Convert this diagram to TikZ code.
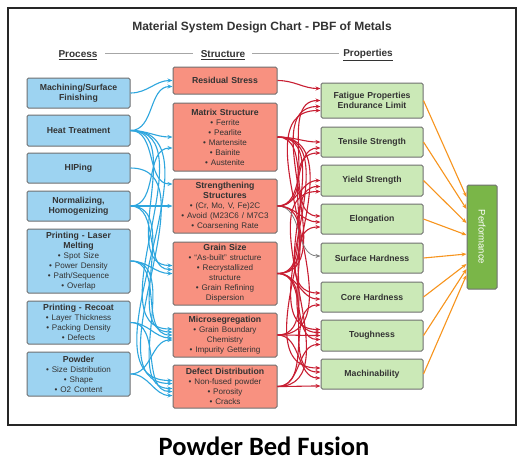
\documentclass[tikz,border=0pt]{standalone}
\usepackage{fontspec}
\setmainfont{Liberation Sans}
\newfontfamily\capfont{Carlito}
\usepackage{xcolor}
\usetikzlibrary{arrows.meta}
\definecolor{procblue}{RGB}{157, 211, 241}
\definecolor{structred}{RGB}{248, 145, 128}
\definecolor{propgreen}{RGB}{203, 233, 183}
\definecolor{perfgreen}{RGB}{122, 182, 72}
\definecolor{boxgray}{RGB}{112, 112, 112}
\definecolor{textgray}{RGB}{51, 51, 51}
\definecolor{linkblue}{RGB}{46, 166, 222}
\definecolor{linkred}{RGB}{200, 30, 50}
\definecolor{linkorange}{RGB}{247, 148, 29}
\newcommand{\bul}[1]{{\mdseries\fontsize{8.1}{9.8}\selectfont\textbullet\ #1}}
\newcommand{\cont}[1]{{\mdseries\fontsize{8.1}{9.8}\selectfont #1}}

\tikzset{
  box/.style={draw=boxgray, line width=1pt, rounded corners=1.5pt, align=center,
    inner sep=1pt, text=textgray, font=\bfseries\fontsize{8.7}{10}\selectfont},
  procbox/.style={box, fill=procblue, minimum width=103pt, text width=100pt},
  structbox/.style={box, fill=structred, minimum width=104pt, text width=101pt},
  propbox/.style={box, fill=propgreen, minimum width=102pt, text width=99pt},
  bluelink/.style={linkblue, line width=1.1pt, -{Stealth[length=5pt,width=4pt]}},
  redlink/.style={linkred, line width=1.1pt, -{Stealth[length=5pt,width=4pt]}},
  graylink/.style={gray, line width=0.8pt, -{Stealth[length=5pt,width=4pt]}},
  orangelink/.style={linkorange, line width=1.1pt, -{Stealth[length=5pt,width=4pt]}},
  heading/.style={font=\bfseries\fontsize{10}{12}\selectfont, text=textgray}
}

\begin{document}
\begin{tikzpicture}[x=1pt, y=-1pt]
  \useasboundingbox (0,0) rectangle (527,467);
  % Frame and titles
  \fill[white] (0,0) rectangle (527,467);
  \draw[line width=1.3pt, black!85] (8,8) rectangle (516,425);
  \node[font=\bfseries\fontsize{12}{14}\selectfont, text=textgray] (title) at (262,27) {Material System Design Chart - PBF of Metals};
  \node[font=\capfont\bfseries\fontsize{26.5}{30}\selectfont] (caption) at (264,446) {Powder Bed Fusion};
  % Column headings
  \node[heading] (hproc) at (78,55) {\underline{Process}};
  \node[heading] (hstruct) at (223,55) {\underline{Structure}};
  \node[heading] (hprop) at (368,55) {\underline{Properties}};
  \draw[gray!70, line width=0.8pt] (105,53) -- (193,53);
  \draw[gray!70, line width=0.8pt] (252,53) -- (339,53);

  % Process
  \node[procbox, minimum height=30pt] (mach) at (78.5,93) {Machining/Surface\\Finishing};
  \node[procbox, minimum height=31pt] (heat) at (78.5,130.5) {Heat Treatment};
  \node[procbox, minimum height=30pt] (hip) at (78.5,168) {HIPing};
  \node[procbox, minimum height=30pt] (norm) at (78.5,206) {Normalizing,\\Homogenizing};
  \node[procbox, minimum height=64pt] (laser) at (78.5,261) {Printing - Laser\\Melting\\\bul{Spot Size}\\\bul{Power Density}\\\bul{Path/Sequence}\\\bul{Overlap}};
  \node[procbox, minimum height=43pt] (recoat) at (78.5,322.5) {Printing - Recoat\\\bul{Layer Thickness}\\\bul{Packing Density}\\\bul{Defects}};
  \node[procbox, minimum height=44pt] (powder) at (78.5,374) {Powder\\\bul{Size Distribution}\\\bul{Shape}\\\bul{O2 Content}};

  % Structure
  \node[structbox, minimum height=27pt] (res) at (225,80.5) {Residual Stress};
  \node[structbox, minimum height=68pt] (matrix) at (225,137) {Matrix Structure\\\bul{Ferrite}\\\bul{Pearlite}\\\bul{Martensite}\\\bul{Bainite}\\\bul{Austenite}};
  \node[structbox, minimum height=54pt] (streng) at (225,206) {Strengthening\\Structures\\\bul{(Cr, Mo, V, Fe)2C}\\\bul{Avoid (M23C6 / M7C3}\\\bul{Coarsening Rate}};
  \node[structbox, minimum height=63pt] (grain) at (225,273.5) {Grain Size\\\bul{``As-built'' structure}\\\bul{Recrystallized}\\\cont{structure}\\\bul{Grain Refining}\\\cont{Dispersion}};
  \node[structbox, minimum height=44pt] (micro) at (225,335) {Microsegregation\\\bul{Grain Boundary}\\\cont{Chemistry}\\\bul{Impurity Gettering}};
  \node[structbox, minimum height=43pt] (defect) at (225,386.5) {Defect Distribution\\\bul{Non-fused powder}\\\bul{Porosity}\\\bul{Cracks}};

  % Properties
  \node[propbox, minimum height=35pt] (fat) at (372,100.5) {Fatigue Properties\\Endurance Limit};
  \node[propbox, minimum height=30pt] (ten) at (372,142) {Tensile Strength};
  \node[propbox, minimum height=31pt] (yld) at (372,180.5) {Yield Strength};
  \node[propbox, minimum height=30pt] (elong) at (372,219) {Elongation};
  \node[propbox, minimum height=30pt] (surf) at (372,258) {Surface Hardness};
  \node[propbox, minimum height=30pt] (core) at (372,297) {Core Hardness};
  \node[propbox, minimum height=31pt] (tough) at (372,335.5) {Toughness};
  \node[propbox, minimum height=30pt] (machin) at (372,374) {Machinability};

  % Performance
  \node[box, fill=perfgreen, minimum width=30pt, minimum height=104pt] (perf) at (482,237)
    {\rotatebox{-90}{\mdseries\fontsize{9.5}{11}\selectfont\color{white}Performance}};

  % Process -> Structure
  \draw[bluelink] (mach.east) to[out=0,in=180] (res.west);
  \draw[bluelink] (heat.east) to[out=0,in=180] ([yshift=-6pt]res.west);
  \draw[bluelink] (heat.east) to[out=0,in=180] (matrix.west);
  \draw[bluelink] (heat.east) to[out=0,in=180] ([yshift=22pt]streng.west);
  \draw[bluelink] (heat.east) to[out=0,in=180] ([yshift=8pt]grain.west);
  \draw[bluelink] (heat.east) to[out=0,in=180] ([yshift=6pt]micro.west);
  \draw[bluelink] (heat.east) to[out=0,in=180] ([yshift=6pt]defect.west);
  \draw[bluelink] (hip.east) to[out=0,in=180] ([yshift=3pt]defect.west);
  \draw[bluelink] (norm.east) to[out=0,in=180] ([yshift=-11pt]matrix.west);
  \draw[bluelink] (norm.east) to[out=0,in=180] (streng.west);
  \draw[bluelink] (norm.east) to[out=0,in=180] ([yshift=4pt]grain.west);
  \draw[bluelink] (norm.east) to[out=0,in=180] ([yshift=3pt]micro.west);
  \draw[bluelink] (laser.east) to[out=0,in=180] (grain.west);
  \draw[bluelink] (laser.east) to[out=0,in=180] (micro.west);
  \draw[bluelink] (laser.east) to[out=0,in=180] ([yshift=-2pt]defect.west);
  \draw[bluelink] (recoat.east) to[out=0,in=180] ([yshift=-3pt]micro.west);
  \draw[bluelink] (recoat.east) to[out=0,in=180] ([yshift=-5pt]defect.west);
  \draw[bluelink] (powder.east) to[out=0,in=180] ([yshift=-5pt]micro.west);
  \draw[bluelink] (powder.east) to[out=0,in=180] ([yshift=-9pt]defect.west);

  % Structure -> Properties
  \draw[redlink] (res.east) to[out=0,in=180] ([yshift=12pt]fat.west);
  \draw[redlink] (streng.east) to[out=0,in=180] (fat.west);
  \draw[redlink] (grain.east) to[out=0,in=180] ([yshift=-6pt]fat.west);
  \draw[redlink] (micro.east) to[out=0,in=180] ([yshift=-10pt]fat.west);
  \draw[redlink] (matrix.east) to[out=0,in=180] (ten.west);
  \draw[redlink] (streng.east) to[out=0,in=180] ([yshift=-6pt]ten.west);
  \draw[redlink] (grain.east) to[out=0,in=180] ([yshift=-11pt]ten.west);
  \draw[redlink] (streng.east) to[out=0,in=180] (yld.west);
  \draw[redlink] (grain.east) to[out=0,in=180] ([yshift=-6pt]yld.west);
  \draw[redlink] (defect.east) to[out=0,in=180] ([yshift=-11pt]yld.west);
  \draw[redlink] (matrix.east) to[out=0,in=180] ([yshift=3pt]elong.west);
  \draw[redlink] (streng.east) to[out=0,in=180] ([yshift=-3pt]elong.west);
  \draw[redlink] (micro.east) to[out=0,in=180] ([yshift=-8pt]elong.west);
  \draw[graylink] (streng.east) to[out=0,in=180] ([yshift=2pt]surf.west);
  \draw[redlink] (matrix.east) to[out=0,in=180] ([yshift=4pt]core.west);
  \draw[redlink] (grain.east) to[out=0,in=180] ([yshift=-2pt]core.west);
  \draw[redlink] (defect.east) to[out=0,in=180] ([yshift=-8pt]core.west);
  \draw[redlink] (micro.east) to[out=0,in=180] (tough.west);
  \draw[redlink] (matrix.east) to[out=0,in=180] ([yshift=6pt]tough.west);
  \draw[redlink] (streng.east) to[out=0,in=180] ([yshift=3pt]tough.west);
  \draw[redlink] (grain.east) to[out=0,in=180] ([yshift=-4pt]tough.west);
  \draw[redlink] (defect.east) to[out=0,in=180] ([yshift=-9pt]tough.west);
  \draw[redlink] (matrix.east) to[out=0,in=180] ([yshift=6pt]machin.west);
  \draw[redlink] (grain.east) to[out=0,in=180] ([yshift=2pt]machin.west);
  \draw[redlink] (micro.east) to[out=0,in=180] ([yshift=-4pt]machin.west);
  \draw[redlink] (defect.east) to[out=0,in=180] ([yshift=-12pt]machin.west);

  % Properties -> Performance
  \foreach \prop/\dy in {fat/40, ten/28, yld/14, elong/2, surf/-17, core/-27, tough/-32, machin/-38}
    \draw[orangelink] (\prop.east) -- ([yshift=\dy pt]perf.west);
\end{tikzpicture}
\end{document}
